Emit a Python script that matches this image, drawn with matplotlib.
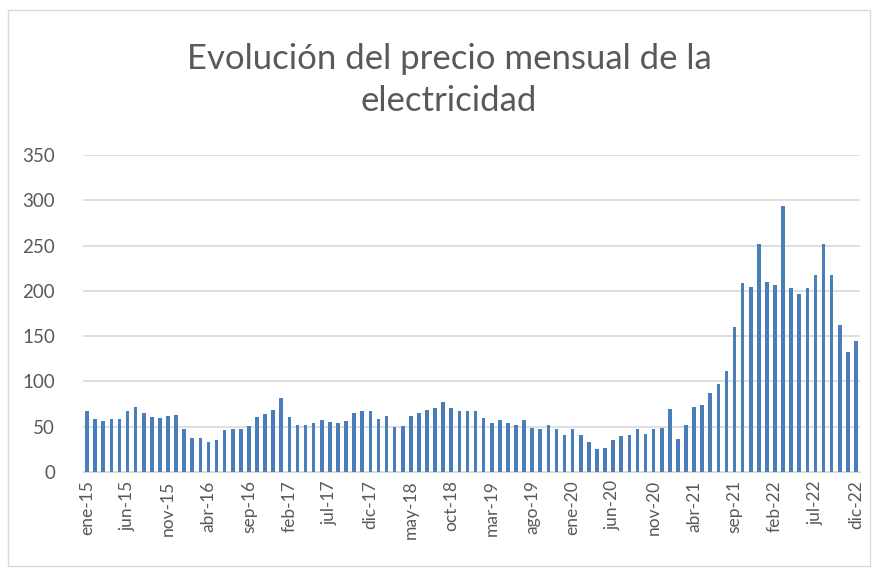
import matplotlib
matplotlib.use("Agg")
import matplotlib.pyplot as plt
from matplotlib.patches import Rectangle

# meses ene-15 .. dic-22
meses = ["ene", "feb", "mar", "abr", "may", "jun", "jul", "ago", "sep", "oct", "nov", "dic"]
anios = ["15", "16", "17", "18", "19", "20", "21", "22"]
etiquetas = [m + "-" + a for a in anios for m in meses]

precios = [
    67, 58.5, 56, 59, 58, 67, 72, 65, 61, 60, 62, 63,          # 2015
    47, 38, 37.5, 33, 35, 46, 48, 48, 51, 61, 64, 69,          # 2016
    82, 61, 51.5, 52, 54, 57, 55.5, 54.5, 56, 65, 67, 67,      # 2017
    58.5, 62, 50, 51, 62, 65, 68, 71, 77, 71, 67, 67.5,        # 2018
    67.5, 60, 54, 57, 54, 52, 57, 49, 47, 52, 48, 41,          # 2019
    47, 41, 33, 25, 27, 35.5, 40, 41, 47, 42, 48, 49,          # 2020
    70, 36.5, 52, 71.5, 74, 87, 97, 111, 160.5, 209, 204, 252, # 2021
    210, 206, 294, 203, 196, 203, 218, 252, 217, 162, 132, 145,  # 2022
]

W, H = 877, 572
fig = plt.figure(figsize=(W / 100, H / 100), dpi=100)
ax = fig.add_axes([83 / W, 1 - 472 / H, (860 - 83) / W, (472 - 155) / H])

x = list(range(len(precios)))
ax.bar(x, precios, width=0.45, color="#4a7ebb", zorder=3)

ax.set_xlim(-0.5, len(precios) - 0.5)
ax.set_ylim(0, 350)
ax.set_yticks(range(0, 351, 50))
ax.grid(axis="y", color="#d9d9d9", linewidth=1.2, zorder=0)
ax.set_xticks(x[::5])
ax.set_xticklabels(etiquetas[::5], rotation=90)

ax.tick_params(axis="both", length=0, labelsize=12.5, colors="#595959", labelfontfamily="Lato")
ax.tick_params(axis="y", labelsize=13.5, pad=20)
ax.tick_params(axis="x", pad=6)
for s in ["top", "right", "left"]:
    ax.spines[s].set_visible(False)
ax.spines["bottom"].set_color("#d9d9d9")

fig.text(449 / W, 1 - 80 / H, "Evolución del precio mensual de la\nelectricidad",
         ha="center", va="center", fontsize=25, color="#595959", family="Lato",
         linespacing=1.4)

fig.add_artist(Rectangle((8 / W, 1 - 566 / H), (870 - 8) / W, (566 - 10) / H,
                         transform=fig.transFigure, fill=False, edgecolor="#d9d9d9", linewidth=1))

fig.savefig("out.png", dpi=100)
